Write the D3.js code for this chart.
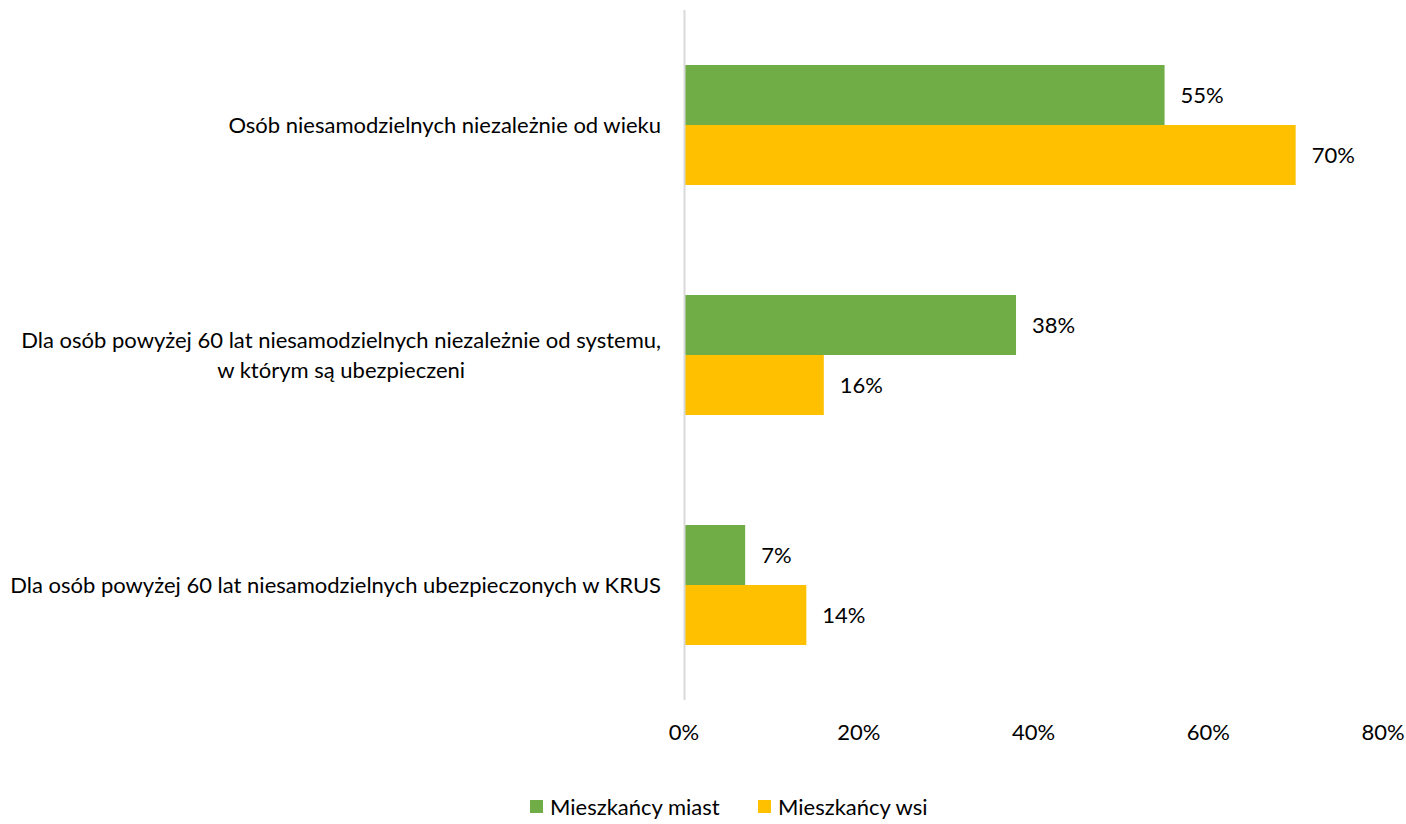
<!DOCTYPE html>
<html><head><meta charset="utf-8">
<script src="https://cdn.jsdelivr.net/npm/d3@7"></script>
<style>body{margin:0;background:#fff}svg{display:block}text{font-family:Lato,"Open Sans",sans-serif;fill:#000}</style>
</head><body><svg id="c" width="1406" height="824"></svg>
<script>
const categories = [
  ["Osób niesamodzielnych niezależnie od wieku"],
  ["Dla osób powyżej 60 lat niesamodzielnych niezależnie od systemu,", "w którym są ubezpieczeni"],
  ["Dla osób powyżej 60 lat niesamodzielnych ubezpieczonych w KRUS"]
];
const seriesNames = ["Mieszkańcy miast", "Mieszkańcy wsi"];
const seriesColors = ["#70ad47", "#ffc000"];
const miasta = [55, 38, 7];
const wsi = [70, 16, 14];
const ticks = [0, 20, 40, 60, 80];

const svg = d3.select("#c");
const FS = 22;
const x = d3.scaleLinear().domain([0, 80]).range([684, 1383]);
const y = d3.scaleBand().domain(d3.range(categories.length)).range([10, 700]).paddingInner(0).paddingOuter(0);
const inner = d3.scaleBand().domain([0, 1]).range([0, 120]);
const bandOff = (y.bandwidth() - 120) / 2;
const seriesVals = [miasta, wsi];

// bars
seriesVals.forEach((vals, s) => {
  const g = svg.append("g");
  g.selectAll("rect").data(vals).join("rect")
    .attr("x", x(0))
    .attr("y", (d, i) => y(i) + bandOff + inner(s))
    .attr("width", d => x(d) - x(0))
    .attr("height", inner.bandwidth())
    .attr("fill", seriesColors[s]);
  g.selectAll("text").data(vals).join("text")
    .attr("x", d => x(d) + 16)
    .attr("y", (d, i) => y(i) + bandOff + inner(s) + inner.bandwidth() / 2)
    .attr("dy", "0.35em")
    .attr("font-size", FS)
    .text(d => d + "%");
});

// axis line
svg.append("line").attr("x1", x(0) + 0.5).attr("x2", x(0) + 0.5).attr("y1", 10).attr("y2", 700)
  .attr("stroke", "#d9d9d9").attr("stroke-width", 2);

// x tick labels
svg.append("g").selectAll("text").data(ticks).join("text")
  .attr("x", d => x(d)).attr("y", 732).attr("dy", "0.35em")
  .attr("text-anchor", "middle").attr("font-size", FS)
  .text(d => d + "%");

// category labels
categories.forEach((lines, i) => {
  const g = svg.append("g");
  const cy = y(i) + y.bandwidth() / 2;
  const lh = 30;
  const ts = lines.map((l, j) => g.append("text")
    .attr("y", cy + (j - (lines.length - 1) / 2) * lh).attr("dy", "0.35em")
    .attr("font-size", FS).text(l));
  const maxW = d3.max(ts, t => t.node().getComputedTextLength());
  ts.forEach(t => t.attr("x", 661 - maxW / 2).attr("text-anchor", "middle"));
});

// legend
const lg = svg.append("g");
const legendX = [530, 758];
seriesNames.forEach((n, s) => {
  lg.append("rect").attr("x", legendX[s]).attr("y", 800).attr("width", 13).attr("height", 13).attr("fill", seriesColors[s]);
  lg.append("text").attr("x", legendX[s] + 20).attr("y", 807).attr("dy", "0.35em").attr("font-size", FS).text(n);
});
</script></body></html>
